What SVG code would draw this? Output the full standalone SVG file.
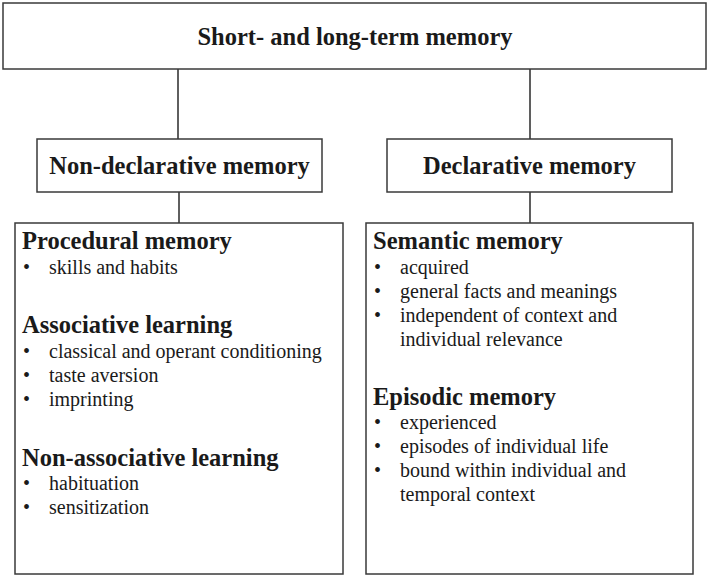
<svg xmlns="http://www.w3.org/2000/svg" width="709" height="578" viewBox="0 0 709 578">
<style>
.box{fill:#fff;stroke:#3a3a3a;stroke-width:1.5}
.conn line{stroke:#2a2a2a;stroke-width:1.5}
text{font-family:"Liberation Serif","Times New Roman",serif;fill:#1a1a1a}
.h{font-weight:bold;font-size:24.5px}
.t{font-size:20px}
.c{text-anchor:middle}
</style>
<rect width="709" height="578" fill="#fff"/>
<g id="connectors" class="conn">
<line x1="178" y1="69" x2="178" y2="139"/>
<line x1="530" y1="69" x2="530" y2="139"/>
<line x1="179" y1="192" x2="179" y2="223"/>
<line x1="530" y1="192" x2="530" y2="223"/>
</g>
<g id="root">
<rect class="box" x="3" y="3" width="703" height="66"/>
<text class="h c" x="355" y="45">Short- and long-term memory</text>
</g>
<g id="nondeclarative">
<rect class="box" x="37" y="139" width="285" height="53"/>
<text class="h c" x="179.5" y="174">Non-declarative memory</text>
</g>
<g id="declarative">
<rect class="box" x="387" y="139" width="285" height="53"/>
<text class="h c" x="529.5" y="174">Declarative memory</text>
</g>
<g id="nondeclarative-details">
<rect class="box" x="15" y="223" width="328" height="351"/>
<text class="h" x="22" y="249">Procedural memory</text>
<text class="t" x="23" y="274">•</text><text class="t" x="49" y="274">skills and habits</text>
<text class="h" x="22" y="333">Associative learning</text>
<text class="t" x="23" y="358">•</text><text class="t" x="49" y="358">classical and operant conditioning</text>
<text class="t" x="23" y="382">•</text><text class="t" x="49" y="382">taste aversion</text>
<text class="t" x="23" y="406">•</text><text class="t" x="49" y="406">imprinting</text>
<text class="h" x="22" y="466">Non-associative learning</text>
<text class="t" x="23" y="490">•</text><text class="t" x="49" y="490">habituation</text>
<text class="t" x="23" y="514">•</text><text class="t" x="49" y="514">sensitization</text>
</g>
<g id="declarative-details">
<rect class="box" x="366" y="223" width="327" height="351"/>
<text class="h" x="373" y="249">Semantic memory</text>
<text class="t" x="374" y="274">•</text><text class="t" x="400" y="274">acquired</text>
<text class="t" x="374" y="298">•</text><text class="t" x="400" y="298">general facts and meanings</text>
<text class="t" x="374" y="322">•</text><text class="t" x="400" y="322">independent of context and</text>
<text class="t" x="400" y="346">individual relevance</text>
<text class="h" x="373" y="405">Episodic memory</text>
<text class="t" x="374" y="429">•</text><text class="t" x="400" y="429">experienced</text>
<text class="t" x="374" y="453">•</text><text class="t" x="400" y="453">episodes of individual life</text>
<text class="t" x="374" y="477">•</text><text class="t" x="400" y="477">bound within individual and</text>
<text class="t" x="400" y="501">temporal context</text>
</g>
</svg>
